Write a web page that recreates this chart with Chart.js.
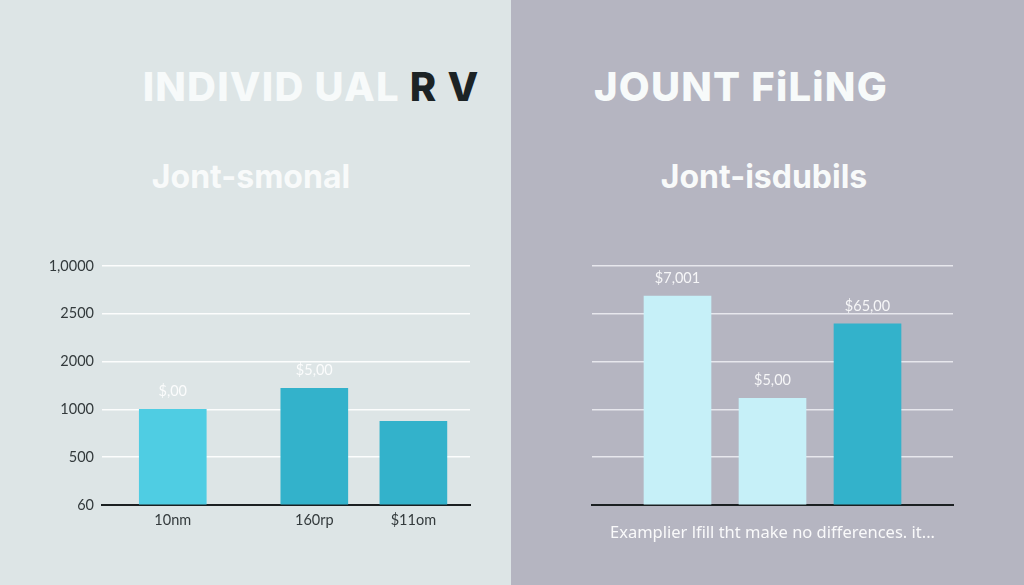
<!DOCTYPE html>
<html>
<head>
<meta charset="utf-8">
<script src="https://cdn.jsdelivr.net/npm/chart.js@4.4.1/dist/chart.umd.min.js"></script>
<style>
  html, body { margin: 0; padding: 0; }
  body { width: 1024px; height: 585px; position: relative; overflow: hidden; font-family: Lato, "Noto Sans", sans-serif; }
  .panel { position: absolute; top: 0; height: 585px; }
  #leftPanel { left: 0; width: 511px; background: #dde5e6; }
  #rightPanel { left: 511px; width: 513px; background: #b5b5c1; }
  .txt { position: absolute; white-space: nowrap; transform: translateX(-50%); }
  .title { font-family: Inter, Lato, sans-serif; font-weight: 800; font-size: 40px; color: #f7fafa; letter-spacing: 1.2px; }
  .sub { font-family: Inter, Lato, sans-serif; font-weight: 700; font-size: 32px; color: #f8fafa; }
  .chartBox { position: absolute; top: 240px; width: 512px; height: 305px; }
</style>
</head>
<body>
<div id="leftPanel" class="panel"></div>
<div id="rightPanel" class="panel"></div>

<div class="txt title" style="left:311px; top:62px;">INDIVID UAL <span style="color:#1c2325">R V</span></div>
<div class="txt title" style="left:741px; top:62px;">JOUNT FiLiNG</div>
<div class="txt sub" style="left:251px; top:157px;">Jont-smonal</div>
<div class="txt sub" style="left:764px; top:157px;">Jont-isdubils</div>

<div class="chartBox" style="left:0;"><canvas id="leftChart"></canvas></div>
<div class="chartBox" style="left:514px;"><canvas id="rightChart"></canvas></div>

<script>
// left panel data
const leftLabels = ['10nm', '160rp', '$11om'];
const leftValues = [2.0, 2.44, 1.75];
const leftBarText = ['$,00', '$5,00', null];
const leftColors = ['#4fcde3', '#33b2cb', '#33b2cb'];
const yTickLabels = ['60', '500', '1000', '2000', '2500', '1,0000'];

// right panel data
const rightLabels = ['', '', ''];
const rightValues = [4.37, 2.23, 3.79];
const rightBarText = ['$7,001', '$5,00', '$65,00'];
const rightColors = ['#c6f0f8', '#c6f0f8', '#33b2cb'];
const footerText = 'Examplier lfill tht make no differences. it...';

// the bars are not evenly spaced in the picture, so each category
// sits in one slot of a finer category axis (rest of the slots empty)
const leftLayout = { count: 27, slots: [5, 15, 22], offset: false };
const rightLayout = { count: 19, slots: [4, 9, 14], offset: true };

function spread(arr, layout, fill) {
    const out = new Array(layout.count).fill(fill);
    layout.slots.forEach((s, i) => { out[s] = arr[i]; });
    return out;
}

// draws the value text above each bar
const barTextPlugin = {
    id: 'barText',
    afterDatasetsDraw(chart, args, opts) {
        const ctx = chart.ctx;
        const meta = chart.getDatasetMeta(0);
        ctx.save();
        ctx.font = '14.5px Lato, "Noto Sans", sans-serif';
        ctx.fillStyle = 'rgba(255,255,255,0.88)';
        ctx.textAlign = 'center';
        ctx.textBaseline = 'middle';
        meta.data.forEach((bar, i) => {
            const t = opts.texts[i];
            if (!t || bar.y == null || isNaN(bar.y)) return;
            ctx.fillText(t, bar.x, bar.y - 18);
        });
        ctx.restore();
    }
};

function makeChart(id, labels, values, colors, texts, layout, isLeft) {
    const ctx = document.getElementById(id).getContext('2d');
    return new Chart(ctx, {
        type: 'bar',
        data: {
            labels: spread(labels, layout, ''),
            datasets: [{
                data: spread(values, layout, null),
                backgroundColor: spread(colors, layout, 'transparent'),
                borderWidth: 0,
                barThickness: 67
            }]
        },
        plugins: [barTextPlugin],
        options: {
            responsive: true,
            maintainAspectRatio: false,
            animation: false,
            layout: {
                padding: isLeft ? { top: 26, right: 42, left: 0, bottom: 0 }
                                : { top: 26, right: 73, left: 0, bottom: 0 }
            },
            plugins: {
                legend: { display: false },
                tooltip: { enabled: false },
                barText: { texts: spread(texts, layout, null) }
            },
            scales: {
                x: {
                    offset: layout.offset,
                    grid: { display: false, drawTicks: false },
                    border: { display: true, color: '#1b2022', width: 2 },
                    ticks: {
                        display: isLeft,
                        color: '#333a3c',
                        font: { size: 14.5, family: 'Lato, "Noto Sans", sans-serif' },
                        padding: 7,
                        maxRotation: 0,
                        autoSkip: false
                    },
                    title: {
                        display: !isLeft,
                        text: footerText,
                        color: 'rgba(255,255,255,0.92)',
                        font: { size: 16.5, family: '"Noto Sans", Lato, sans-serif' },
                        padding: { top: 0, bottom: 2 }
                    },
                    afterFit(scale) { scale.height = 40; }
                },
                y: {
                    min: 0,
                    max: 5,
                    grid: {
                        color: isLeft ? 'rgba(255,255,255,0.9)' : 'rgba(240,240,245,0.85)',
                        lineWidth: 1.5,
                        drawTicks: false
                    },
                    border: { display: false },
                    ticks: {
                        display: isLeft,
                        stepSize: 1,
                        padding: 8,
                        color: '#333a3c',
                        font: { size: 14.5, family: 'Lato, "Noto Sans", sans-serif' },
                        callback: (v) => yTickLabels[v]
                    },
                    afterFit(scale) { scale.width = isLeft ? 102 : 78; }
                }
            }
        }
    });
}

makeChart('leftChart', leftLabels, leftValues, leftColors, leftBarText, leftLayout, true);
makeChart('rightChart', rightLabels, rightValues, rightColors, rightBarText, rightLayout, false);
</script>
</body>
</html>
